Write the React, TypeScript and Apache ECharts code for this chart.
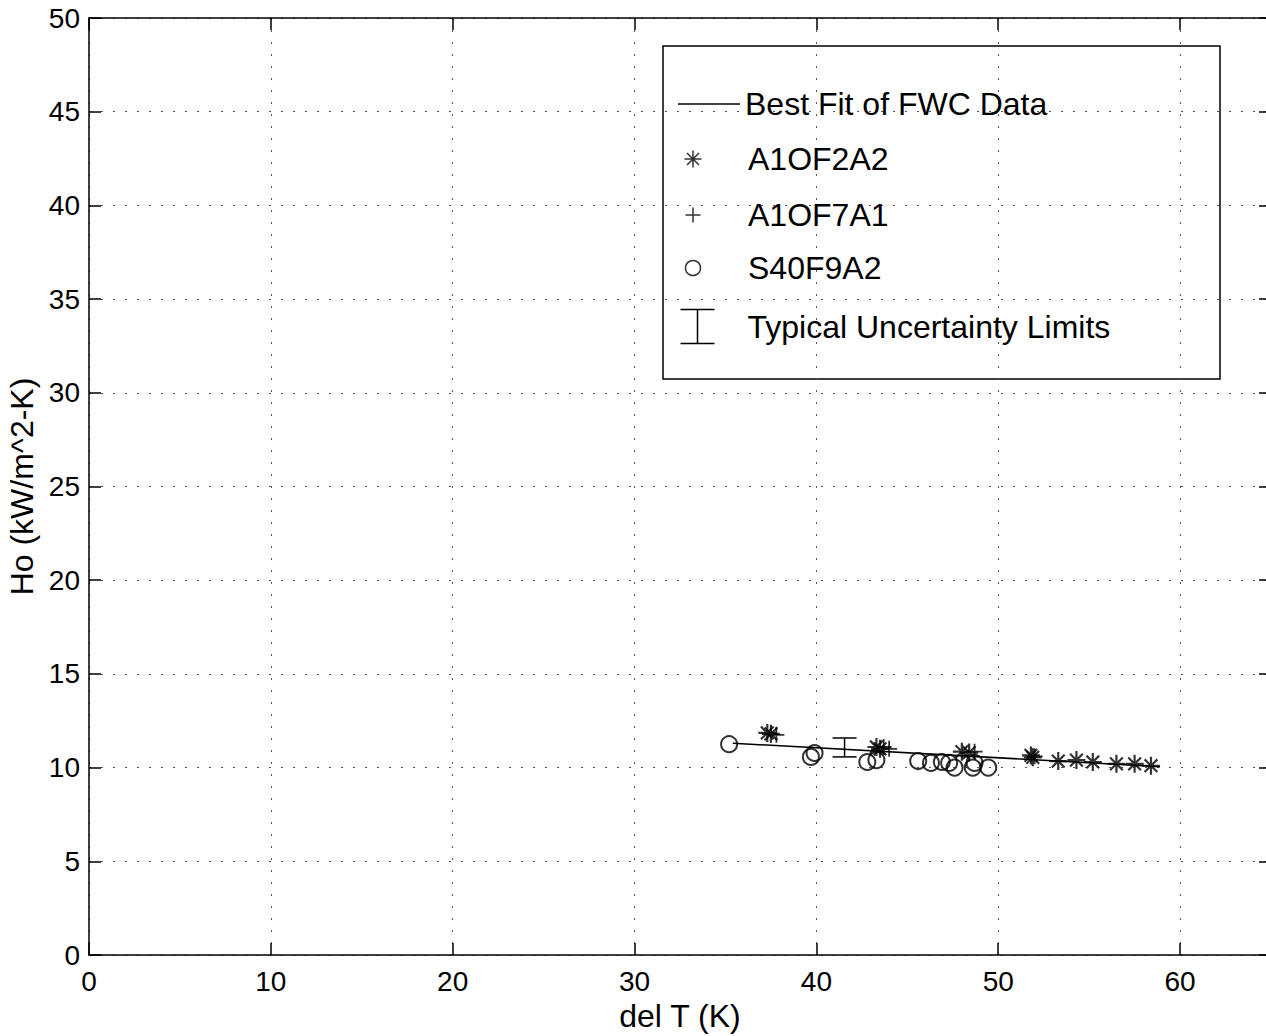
import React, { useEffect, useRef } from 'react';
import * as echarts from 'echarts';

const FONT = '"Liberation Sans", Arial, Helvetica, sans-serif';

const fitLine: number[][] = [
  [35.4, 11.3],
  [58.9, 10.05],
];

const a1of2a2: number[][] = [
  [37.3, 11.85], [37.5, 11.8],
  [43.3, 11.1], [43.5, 11.0],
  [48.0, 10.85], [48.4, 10.8],
  [51.8, 10.65], [51.9, 10.55],
  [53.3, 10.35], [54.3, 10.4], [55.2, 10.3],
  [56.5, 10.2], [57.5, 10.2], [58.4, 10.1],
];

const a1of7a1: number[][] = [
  [37.8, 11.75], [43.7, 11.1], [44.0, 11.0], [48.7, 10.85], [52.0, 10.6],
];

const s40f9a2: number[][] = [
  [35.2, 11.25], [39.7, 10.57], [39.9, 10.78],
  [42.8, 10.3], [43.3, 10.4], [45.6, 10.35],
  [46.3, 10.25], [46.9, 10.3], [47.3, 10.25],
  [47.6, 10.0], [48.6, 10.0], [48.7, 10.25], [49.45, 10.0],
];

const uncertainty: number[][] = [[41.55, 10.57, 11.58]];

const names = [
  'Best Fit of FWC Data',
  'A1OF2A2',
  'A1OF7A1',
  'S40F9A2',
  'Typical Uncertainty Limits',
];

const STAR = 'path://M0,-10L0,10M-10,0L10,0M-7.07,-7.07L7.07,7.07M-7.07,7.07L7.07,-7.07';
const PLUS = 'path://M0,-10L0,10M-10,0L10,0';
const IBEAM = 'path://M-10,-10L10,-10M0,-10L0,10M-10,10L10,10';

const strokeStyle = { color: 'none', borderColor: '#000', borderWidth: 1.5 };

export default function App() {
  const ref = useRef<HTMLDivElement>(null);

  useEffect(() => {
    if (!ref.current) return;
    const chart = echarts.init(ref.current, undefined, { renderer: 'svg' });

    const splitLine = {
      show: true,
      lineStyle: { color: '#555', width: 1, type: [2, 10] as any },
    };
    const axisLine = { show: true, onZero: false, lineStyle: { color: '#000', width: 1.5 } };
    const axisTick = { show: true, inside: true, length: 12, lineStyle: { color: '#000', width: 1.5 } };

    const legendBase = {
      orient: 'vertical',
      selectedMode: false,
      padding: 0,
      itemGap: 0,
      textStyle: { fontSize: 32, lineHeight: 38, color: '#000', fontFamily: FONT },
    };

    const option: any = {
      animation: false,
      backgroundColor: '#fff',
      textStyle: { fontFamily: FONT },
      grid: { left: 89, top: 18, width: 1182, height: 937, outerBoundsMode: 'none', containLabel: false },
      xAxis: [
        {
          type: 'value',
          min: 0,
          max: 65,
          interval: 10,
          position: 'bottom',
          name: 'del T (K)',
          nameLocation: 'middle',
          nameGap: 44,
          nameTextStyle: { fontSize: 32, color: '#000', fontFamily: FONT },
          axisLine,
          axisTick,
          splitLine,
          axisLabel: {
            fontSize: 28,
            color: '#000',
            margin: 12,
            fontFamily: FONT,
            formatter: (v: number) => (v % 10 === 0 ? String(v) : ''),
          },
        },
        {
          type: 'value',
          min: 0,
          max: 65,
          interval: 10,
          position: 'top',
          axisLine,
          axisTick,
          splitLine: { show: false },
          axisLabel: { show: false },
        },
      ],
      yAxis: [
        {
          type: 'value',
          min: 0,
          max: 50,
          interval: 5,
          position: 'left',
          name: 'Ho (kW/m^2-K)',
          nameLocation: 'middle',
          nameGap: 50,
          nameTextStyle: { fontSize: 32, color: '#000', fontFamily: FONT },
          axisLine,
          axisTick,
          splitLine,
          axisLabel: { fontSize: 28, color: '#000', margin: 9, fontFamily: FONT },
        },
        {
          type: 'value',
          min: 0,
          max: 50,
          interval: 5,
          position: 'right',
          axisLine,
          axisTick,
          splitLine: { show: false },
          axisLabel: { show: false },
        },
      ],
      legend: [
        { ...legendBase, left: 678, top: 104 - 19, itemWidth: 62, itemHeight: 1.5, data: [{ name: names[0], icon: 'rect', itemStyle: { color: '#000', borderWidth: 0 } }] },
        { ...legendBase, left: 682, top: 159 - 19, itemWidth: 100, itemHeight: 17, data: [{ name: names[1], icon: STAR, itemStyle: strokeStyle }] },
        { ...legendBase, left: 683, top: 215 - 19, itemWidth: 100, itemHeight: 15, data: [{ name: names[2], icon: PLUS, itemStyle: strokeStyle }] },
        { ...legendBase, left: 683, top: 268 - 19, itemWidth: 100, itemHeight: 15, data: [{ name: names[3], icon: 'circle', itemStyle: strokeStyle }] },
        { ...legendBase, left: 678, top: 326 - 19, itemWidth: 90, itemHeight: 34, data: [{ name: names[4], icon: IBEAM, itemStyle: strokeStyle }] },
      ],
      graphic: [
        {
          type: 'rect',
          shape: { x: 663, y: 46, width: 557, height: 333 },
          style: { fill: 'none', stroke: '#000', lineWidth: 1.5 },
          silent: true,
        },
      ],
      series: [
        {
          name: names[0],
          type: 'line',
          data: fitLine,
          symbol: 'none',
          lineStyle: { color: '#000', width: 1.5 },
          itemStyle: { color: '#000' },
          z: 3,
        },
        {
          name: names[1],
          type: 'scatter',
          data: a1of2a2,
          symbol: STAR,
          symbolSize: 18,
          itemStyle: { color: '#000', borderColor: '#000', borderWidth: 2.2 },
          z: 4,
        },
        {
          name: names[2],
          type: 'scatter',
          data: a1of7a1,
          symbol: PLUS,
          symbolSize: 16,
          itemStyle: { color: '#000', borderColor: '#000', borderWidth: 1.8 },
          z: 4,
        },
        {
          name: names[3],
          type: 'scatter',
          data: s40f9a2,
          symbol: 'circle',
          symbolSize: 16,
          itemStyle: { color: 'transparent', borderColor: '#000', borderWidth: 2 },
          z: 4,
        },
        {
          name: names[4],
          type: 'custom',
          data: uncertainty,
          encode: { x: 0, y: [1, 2] },
          itemStyle: { color: '#000' },
          z: 4,
          renderItem: (_params: any, api: any) => {
            const x = api.value(0);
            const p1 = api.coord([x, api.value(1)]);
            const p2 = api.coord([x, api.value(2)]);
            const hw = 12;
            const style = { stroke: '#000', lineWidth: 1.5 };
            return {
              type: 'group',
              children: [
                { type: 'line', shape: { x1: p1[0], y1: p1[1], x2: p2[0], y2: p2[1] }, style },
                { type: 'line', shape: { x1: p1[0] - hw, y1: p1[1], x2: p1[0] + hw, y2: p1[1] }, style },
                { type: 'line', shape: { x1: p2[0] - hw, y1: p2[1], x2: p2[0] + hw, y2: p2[1] }, style },
              ],
            };
          },
        },
      ],
    };

    chart.setOption(option);
    return () => chart.dispose();
  }, []);

  return (
    <div
      ref={ref}
      style={{ position: 'absolute', left: 0, top: 0, width: 1266, height: 1036 }}
    />
  );
}
